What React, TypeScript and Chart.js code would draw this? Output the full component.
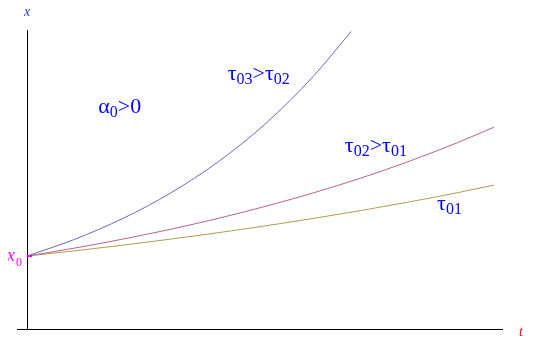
import React, { useEffect, useRef } from "react";
import { Chart, registerables } from "chart.js";
Chart.register(...registerables);

// (t in arbitrary units, x normalised so x0 = 1)
const tBlue = [0, 1, 2, 3, 4, 5, 6, 6.78];
const xBlue = [1, 1.231, 1.514, 1.863, 2.293, 2.821, 3.472, 4.08];
const tPurple = [0, 1, 2, 3, 4, 5, 6, 7, 8, 9, 9.77];
const xPurple = [1, 1.11, 1.232, 1.367, 1.517, 1.684, 1.868, 2.073, 2.301, 2.554, 2.767];
const tOlive = [0, 1, 2, 3, 4, 5, 6, 7, 8, 9, 9.77];
const xOlive = [1, 1.072, 1.149, 1.232, 1.32, 1.415, 1.517, 1.626, 1.743, 1.868, 1.973];

const labels = [
  { parts: [["α", "0"], [">0", ""]], t: 1.49, x: 2.96 },
  { parts: [["τ", "03"], [">τ", "02"]], t: 4.2, x: 3.41 },
  { parts: [["τ", "02"], [">τ", "01"]], t: 6.65, x: 2.43 },
  { parts: [["τ", "01"]], t: 8.58, x: 1.63 },
];

const toPts = (ts: number[], xs: number[]) => ts.map((t, i) => ({ x: t, y: xs[i] }));
const SERIF = "'Liberation Serif', 'Times New Roman', serif";

const decor = {
  id: "decor",
  afterDraw(chart: any) {
    const ctx = chart.ctx as CanvasRenderingContext2D;
    const sx = chart.scales.x;
    const sy = chart.scales.y;
    const x0px = sx.getPixelForValue(0);
    const y0px = sy.getPixelForValue(0);
    const ytop = sy.getPixelForValue(sy.max);
    const xend = sx.getPixelForValue(sx.max);
    ctx.save();
    ctx.strokeStyle = "#000";
    ctx.lineWidth = 1;
    ctx.beginPath();
    ctx.moveTo(Math.round(x0px) + 0.5, ytop);
    ctx.lineTo(Math.round(x0px) + 0.5, y0px + 1);
    ctx.moveTo(x0px - 10, Math.round(y0px) + 0.5);
    ctx.lineTo(xend - 2, Math.round(y0px) + 0.5);
    ctx.stroke();
    // x0 tick
    const yx0 = sy.getPixelForValue(1);
    ctx.strokeStyle = "#ff00ff";
    ctx.lineWidth = 2;
    ctx.beginPath();
    ctx.moveTo(x0px, yx0);
    ctx.lineTo(x0px + 5, yx0);
    ctx.stroke();
    // axis labels
    ctx.textBaseline = "alphabetic";
    ctx.font = "italic 14px " + SERIF;
    ctx.fillStyle = "#3333ff";
    ctx.fillText("x", x0px - 3, ytop - 14);
    ctx.fillStyle = "#ff0022";
    ctx.fillText("t", xend + 14, y0px + 7);
    ctx.fillStyle = "#ff00ff";
    ctx.font = "italic 18px " + SERIF;
    ctx.fillText("x", x0px - 20, yx0 + 5);
    ctx.font = "12px " + SERIF;
    ctx.fillText("0", x0px - 11, yx0 + 10);
    // annotations
    ctx.fillStyle = "#0000ff";
    for (const l of labels) {
      let px = sx.getPixelForValue(l.t);
      const py = sy.getPixelForValue(l.x);
      for (const [main, sub] of l.parts) {
        ctx.font = "22px " + SERIF;
        ctx.fillText(main, px, py);
        px += ctx.measureText(main).width;
        if (sub) {
          ctx.font = "16px " + SERIF;
          ctx.fillText(sub, px, py + 4);
          px += ctx.measureText(sub).width;
        }
      }
    }
    ctx.restore();
  },
};

export default function App() {
  const ref = useRef<HTMLCanvasElement>(null);
  useEffect(() => {
    let chart: Chart | null = null;
    let cancelled = false;
    const mk = (ts: number[], xs: number[], color: string) => ({
      data: toPts(ts, xs),
      borderColor: color,
      borderWidth: 1,
      pointRadius: 0,
      tension: 0.4,
      cubicInterpolationMode: "monotone" as const,
      clip: false as any,
      fill: false,
    });
    const build = () => {
      if (cancelled || !ref.current) return;
      chart = new Chart(ref.current, {
        type: "line",
        data: {
          datasets: [
            mk(tBlue, xBlue, "rgb(105,105,185)"),
            mk(tPurple, xPurple, "rgb(180,100,145)"),
            mk(tOlive, xOlive, "rgb(175,155,85)"),
          ],
        },
        options: {
          animation: false,
          responsive: false,
          maintainAspectRatio: false,
          layout: { padding: { left: 19, right: 24, top: 22, bottom: 14 } },
          plugins: { legend: { display: false }, tooltip: { enabled: false } },
          scales: {
            x: { type: "linear", min: 0, max: 10, display: false },
            y: { type: "linear", min: 0, max: 4.1, display: false },
          },
        },
        plugins: [decor],
      });
    };
    Promise.all([
      document.fonts.load("22px 'Liberation Serif'", "τα0x"),
      document.fonts.load("italic 18px 'Liberation Serif'", "xt"),
    ])
      .catch(() => null)
      .then(build);
    return () => {
      cancelled = true;
      if (chart) chart.destroy();
    };
  }, []);
  return <canvas ref={ref} width={521} height={335} style={{ display: "block" }} />;
}
